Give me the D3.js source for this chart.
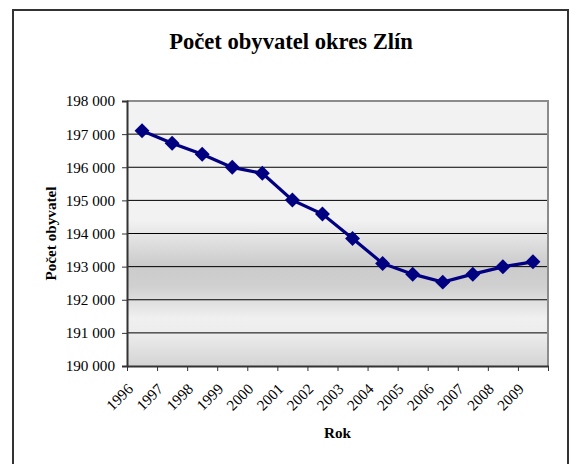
<!DOCTYPE html>
<html>
<head>
<meta charset="utf-8">
<script src="https://cdn.jsdelivr.net/npm/d3@7"></script>
<style>
	body { margin: 0; background: #fff; }
	svg { display: block; }
	svg text { font-family: "Liberation Serif", "Times New Roman", serif !important; }
</style>
</head>
<body>
<svg id="chart"></svg>
<script>
// data
const years = ["1996", "1997", "1998", "1999", "2000", "2001", "2002",
               "2003", "2004", "2005", "2006", "2007", "2008", "2009"];
const population = [197103, 196722, 196390, 195997, 195816, 195009, 194586,
                    193852, 193097, 192773, 192532, 192773, 192994, 193145];
const yTicks = [190000, 191000, 192000, 193000, 194000, 195000, 196000, 197000, 198000];

const title = "Počet obyvatel okres Zlín";
const xTitle = "Rok";
const yTitle = "Počet obyvatel";

const width = 571;
const height = 464;
const plot = { left: 127, right: 548, top: 101, bottom: 366 };

const svg = d3.select("#chart")
              .attr("width", width)
              .attr("height", height);

// outer frame
svg.append("rect")
   .attr("x", 13).attr("y", 10)
   .attr("width", 555).attr("height", 470)
   .attr("fill", "#fff")
   .attr("stroke", "#333")
   .attr("stroke-width", 2);

// background gradient of plot area
const grad = svg.append("defs").append("linearGradient")
                .attr("id", "bg")
                .attr("x1", 0).attr("y1", 0).attr("x2", 0).attr("y2", 1);
[[0, "#f2f2f2"], [0.45, "#f2f2f2"], [0.62, "#cbcbcb"], [0.70, "#d0d0d0"],
 [0.82, "#f0f0f0"], [0.88, "#ececec"], [1, "#d4d4d4"]]
	.forEach(([o, c]) => grad.append("stop").attr("offset", o).attr("stop-color", c));

svg.append("rect")
   .attr("x", plot.left).attr("y", plot.top)
   .attr("width", plot.right - plot.left)
   .attr("height", plot.bottom - plot.top)
   .attr("fill", "url(#bg)");

const xScale = d3.scaleBand(years, [plot.left, plot.right]);
const edgeScale = d3.scaleLinear([0, years.length], [plot.left, plot.right]);
const yScale = d3.scaleLinear([190000, 198000], [plot.bottom, plot.top]);

// gridlines
svg.append("g")
   .selectAll("line")
   .data(yTicks.slice(1, -1))
   .join("line")
   .attr("x1", plot.left).attr("x2", plot.right)
   .attr("y1", d => yScale(d)).attr("y2", d => yScale(d))
   .attr("stroke", "#000")
   .attr("stroke-width", 1);

// top & right border
svg.append("path")
   .attr("d", `M${plot.left},${plot.top}H${plot.right}V${plot.bottom}`)
   .attr("fill", "none")
   .attr("stroke", "#8c8c8c")
   .attr("stroke-width", 2);

const fmt = d => d3.format(",")(d).replace(/,/g, " ");

// y axis
svg.append("g")
   .attr("transform", `translate(${plot.left},0)`)
   .call(d3.axisLeft(yScale).tickValues(yTicks).tickFormat(fmt).tickSize(5).tickPadding(7))
   .call(g => g.select(".domain").attr("stroke", "#333").attr("stroke-width", 2))
   .call(g => g.selectAll(".tick line").attr("stroke", "#333"))
   .call(g => g.selectAll(".tick text")
               .style("font-size", "15.2px")
               .attr("fill", "#000"));

// x axis (ticks at category boundaries)
svg.append("g")
   .attr("transform", `translate(0,${plot.bottom})`)
   .call(d3.axisBottom(edgeScale).tickValues(d3.range(years.length + 1)).tickFormat("").tickSize(5).tickSizeOuter(0))
   .call(g => g.select(".domain").attr("stroke", "#333").attr("stroke-width", 2))
   .call(g => g.selectAll(".tick line").attr("stroke", "#333"));

svg.append("g")
   .selectAll("text")
   .data(years)
   .join("text")
   .attr("transform", d => `translate(${xScale(d) + xScale.bandwidth() / 2 - 8},${plot.bottom + 24}) rotate(-45)`)
   .attr("text-anchor", "end")
   .style("font-size", "15.2px")
   .attr("fill", "#000")
   .text(d => d);

// line
const line = d3.line()
               .x((d, i) => xScale(years[i]) + xScale.bandwidth() / 2)
               .y(d => yScale(d));

svg.append("path")
   .datum(population)
   .attr("d", line)
   .attr("fill", "none")
   .attr("stroke", "#000080")
   .attr("stroke-width", 3.2);

// diamond markers
svg.append("g")
   .selectAll("path")
   .data(population)
   .join("path")
   .attr("d", d3.symbol(d3.symbolSquare, 112))
   .attr("transform", (d, i) => `translate(${xScale(years[i]) + xScale.bandwidth() / 2},${yScale(d)}) rotate(45)`)
   .attr("fill", "#000080");

// titles
svg.append("text")
   .attr("x", 291).attr("y", 49)
   .attr("text-anchor", "middle")
   .style("font-size", "22.6px")
   .attr("font-weight", "bold")
   .text(title);

svg.append("text")
   .attr("x", (plot.left + plot.right) / 2).attr("y", 438)
   .attr("text-anchor", "middle")
   .style("font-size", "15.2px")
   .attr("font-weight", "bold")
   .text(xTitle);

svg.append("text")
   .attr("transform", `translate(56,${(plot.top + plot.bottom) / 2}) rotate(-90)`)
   .attr("text-anchor", "middle")
   .style("font-size", "15.2px")
   .attr("font-weight", "bold")
   .text(yTitle);
</script>
</body>
</html>
